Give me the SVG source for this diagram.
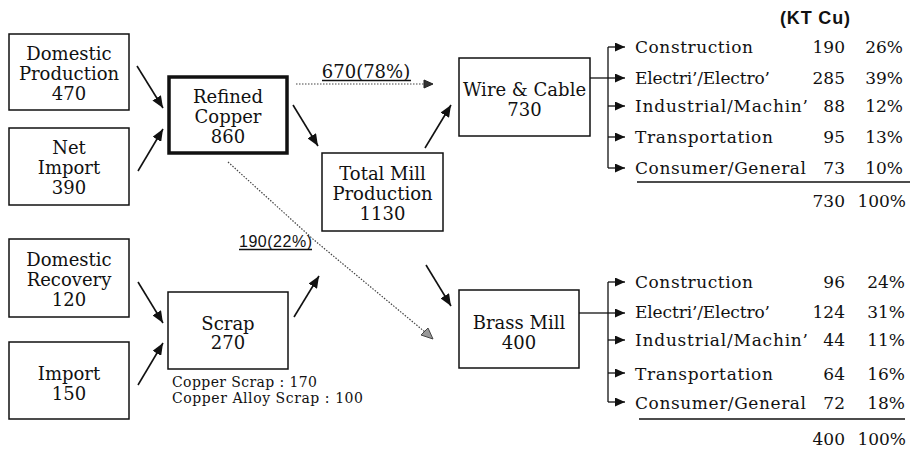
<svg xmlns="http://www.w3.org/2000/svg" width="915" height="449" viewBox="0 0 915 449">
<style>
  .box{fill:#fff;stroke:#111;stroke-width:1.5}
  .thick{fill:#fff;stroke:#111;stroke-width:3.5}
  .lbl{font-family:"DejaVu Serif","Liberation Serif",serif;font-size:18px;fill:#111;text-anchor:middle}
  .tbl{font-family:"DejaVu Serif","Liberation Serif",serif;font-size:17px;fill:#111}
  .num{font-family:"DejaVu Serif","Liberation Serif",serif;font-size:17px;fill:#111;text-anchor:end}
  .note{font-family:"DejaVu Serif","Liberation Serif",serif;font-size:14px;fill:#111}
  .sans{font-family:"Liberation Sans",Arial,sans-serif;fill:#111}
  .arr{stroke:#111;stroke-width:1.6;fill:none;marker-end:url(#ah)}
  .br{stroke:#111;stroke-width:1.3;fill:none}
  .barr{stroke:#111;stroke-width:1.3;fill:none;marker-end:url(#sh)}
  .dot{stroke:#444;stroke-width:1.2;stroke-dasharray:1.5 1.5;fill:none}
  .ul{stroke:#111;stroke-width:1.3}
</style>
<defs>
  <marker id="ah" markerUnits="userSpaceOnUse" markerWidth="12" markerHeight="10" refX="12" refY="5" orient="auto">
    <path d="M0,0 L12,5 L0,10 z" fill="#111"/>
  </marker>
  <marker id="sh" markerUnits="userSpaceOnUse" markerWidth="10" markerHeight="9" refX="10" refY="4.5" orient="auto">
    <path d="M0,0 L10,4.5 L0,9 z" fill="#111"/>
  </marker>
</defs>
<rect width="915" height="449" fill="#fff"/>

<g id="connectors">
  <line class="arr" x1="137" y1="66" x2="163" y2="108"/>
  <line class="arr" x1="138" y1="171" x2="163" y2="129"/>
  <line class="arr" x1="293" y1="105" x2="318" y2="146"/>
  <line class="arr" x1="425" y1="148" x2="451" y2="105"/>
  <line class="arr" x1="426" y1="265" x2="451" y2="306"/>
  <line class="arr" x1="138" y1="282" x2="163" y2="323"/>
  <line class="arr" x1="138" y1="385" x2="163" y2="343"/>
  <line class="arr" x1="294" y1="317" x2="319" y2="276"/>
  <line class="dot" x1="296" y1="84" x2="424" y2="84"/>
  <path d="M424,80 L433,84 L424,88 z" fill="#333" stroke="#222" stroke-width="1"/>
  <path class="dot" d="M228,162 L314,240 L425,332"/>
  <path d="M433,339 L421,335 L428,328 z" fill="#999" stroke="#444" stroke-width="1"/>
  <!-- Wire & Cable bracket -->
  <line class="br" x1="590" y1="78" x2="608" y2="78"/>
  <line class="br" x1="608" y1="47" x2="608" y2="168"/>
  <line class="barr" x1="608" y1="47" x2="625" y2="47"/>
  <line class="barr" x1="608" y1="78" x2="625" y2="78"/>
  <line class="barr" x1="608" y1="106" x2="625" y2="106"/>
  <line class="barr" x1="608" y1="137" x2="625" y2="137"/>
  <line class="barr" x1="608" y1="168" x2="625" y2="168"/>
  <!-- Brass Mill bracket -->
  <line class="br" x1="579" y1="313" x2="608" y2="313"/>
  <line class="br" x1="608" y1="282" x2="608" y2="402"/>
  <line class="barr" x1="608" y1="282" x2="625" y2="282"/>
  <line class="barr" x1="608" y1="313" x2="625" y2="313"/>
  <line class="barr" x1="608" y1="340" x2="625" y2="340"/>
  <line class="barr" x1="608" y1="373" x2="625" y2="373"/>
  <line class="barr" x1="608" y1="402" x2="625" y2="402"/>
</g>

<g id="lbl-670">
  <text class="lbl" x="366" y="78">670(78%)</text>
  <line class="ul" x1="322" y1="80.5" x2="411" y2="80.5"/>
</g>
<g id="lbl-190">
  <text class="sans" x="239" y="247" font-size="16" textLength="73">190(22%)</text>
  <line class="ul" x1="239" y1="249.5" x2="312" y2="249.5"/>
</g>

<g id="domestic-production">
  <rect class="box" x="9" y="34" width="120" height="76"/>
  <text class="lbl" x="69" y="60">Domestic</text>
  <text class="lbl" x="69" y="80">Production</text>
  <text class="lbl" x="69" y="100">470</text>
</g>
<g id="net-import">
  <rect class="box" x="9" y="128" width="120" height="77"/>
  <text class="lbl" x="69" y="154">Net</text>
  <text class="lbl" x="69" y="174">Import</text>
  <text class="lbl" x="69" y="194">390</text>
</g>
<g id="refined-copper">
  <rect class="thick" x="169" y="77" width="118" height="76"/>
  <text class="lbl" x="228" y="103">Refined</text>
  <text class="lbl" x="228" y="123">Copper</text>
  <text class="lbl" x="228" y="143">860</text>
</g>
<g id="domestic-recovery">
  <rect class="box" x="9" y="239" width="120" height="78"/>
  <text class="lbl" x="69" y="266">Domestic</text>
  <text class="lbl" x="69" y="286">Recovery</text>
  <text class="lbl" x="69" y="306">120</text>
</g>
<g id="import">
  <rect class="box" x="9" y="342" width="120" height="77"/>
  <text class="lbl" x="69" y="380">Import</text>
  <text class="lbl" x="69" y="400">150</text>
</g>
<g id="scrap">
  <rect class="box" x="168" y="292" width="120" height="77"/>
  <text class="lbl" x="228" y="330">Scrap</text>
  <text class="lbl" x="228" y="349">270</text>
  <text class="note" x="172" y="387" textLength="145">Copper Scrap : 170</text>
  <text class="note" x="172" y="403" textLength="191">Copper Alloy Scrap : 100</text>
</g>
<g id="total-mill-production">
  <rect class="box" x="322" y="153" width="121" height="78"/>
  <text class="lbl" x="382.5" y="180">Total Mill</text>
  <text class="lbl" x="382.5" y="200">Production</text>
  <text class="lbl" x="382.5" y="220">1130</text>
</g>
<g id="wire-cable">
  <rect class="box" x="459" y="58" width="131" height="78"/>
  <text class="lbl" x="524.5" y="96">Wire &amp; Cable</text>
  <text class="lbl" x="524.5" y="116">730</text>
</g>
<g id="brass-mill">
  <rect class="box" x="459" y="290" width="120" height="78"/>
  <text class="lbl" x="519" y="329">Brass Mill</text>
  <text class="lbl" x="519" y="349">400</text>
</g>

<g id="unit">
  <text class="sans" x="780" y="24" font-size="18" font-weight="bold" textLength="70">(KT Cu)</text>
</g>

<g id="wire-table">
  <text class="tbl" x="635" y="53" textLength="118">Construction</text>
  <text class="tbl" x="635" y="84" textLength="135">Electri’/Electro’</text>
  <text class="tbl" x="635" y="112" textLength="173">Industrial/Machin’</text>
  <text class="tbl" x="635" y="143" textLength="138">Transportation</text>
  <text class="tbl" x="635" y="174" textLength="171">Consumer/General</text>
  <text class="num" x="845" y="53">190</text>
  <text class="num" x="845" y="84">285</text>
  <text class="num" x="845" y="112">88</text>
  <text class="num" x="845" y="143">95</text>
  <text class="num" x="845" y="174">73</text>
  <text class="num" x="903" y="53">26%</text>
  <text class="num" x="903" y="84">39%</text>
  <text class="num" x="903" y="112">12%</text>
  <text class="num" x="903" y="143">13%</text>
  <text class="num" x="903" y="174">10%</text>
  <line class="ul" x1="637" y1="182" x2="910" y2="182"/>
  <text class="num" x="845" y="207">730</text>
  <text class="num" x="906" y="207">100%</text>
</g>

<g id="brass-table">
  <text class="tbl" x="635" y="288" textLength="118">Construction</text>
  <text class="tbl" x="635" y="318" textLength="135">Electri’/Electro’</text>
  <text class="tbl" x="635" y="346" textLength="173">Industrial/Machin’</text>
  <text class="tbl" x="635" y="380" textLength="138">Transportation</text>
  <text class="tbl" x="635" y="409" textLength="171">Consumer/General</text>
  <text class="num" x="845" y="288">96</text>
  <text class="num" x="845" y="318">124</text>
  <text class="num" x="845" y="346">44</text>
  <text class="num" x="845" y="380">64</text>
  <text class="num" x="845" y="409">72</text>
  <text class="num" x="905" y="288">24%</text>
  <text class="num" x="905" y="318">31%</text>
  <text class="num" x="905" y="346">11%</text>
  <text class="num" x="905" y="380">16%</text>
  <text class="num" x="905" y="409">18%</text>
  <line class="ul" x1="639" y1="419" x2="905" y2="419"/>
  <text class="num" x="845" y="445">400</text>
  <text class="num" x="906" y="445">100%</text>
</g>
</svg>
